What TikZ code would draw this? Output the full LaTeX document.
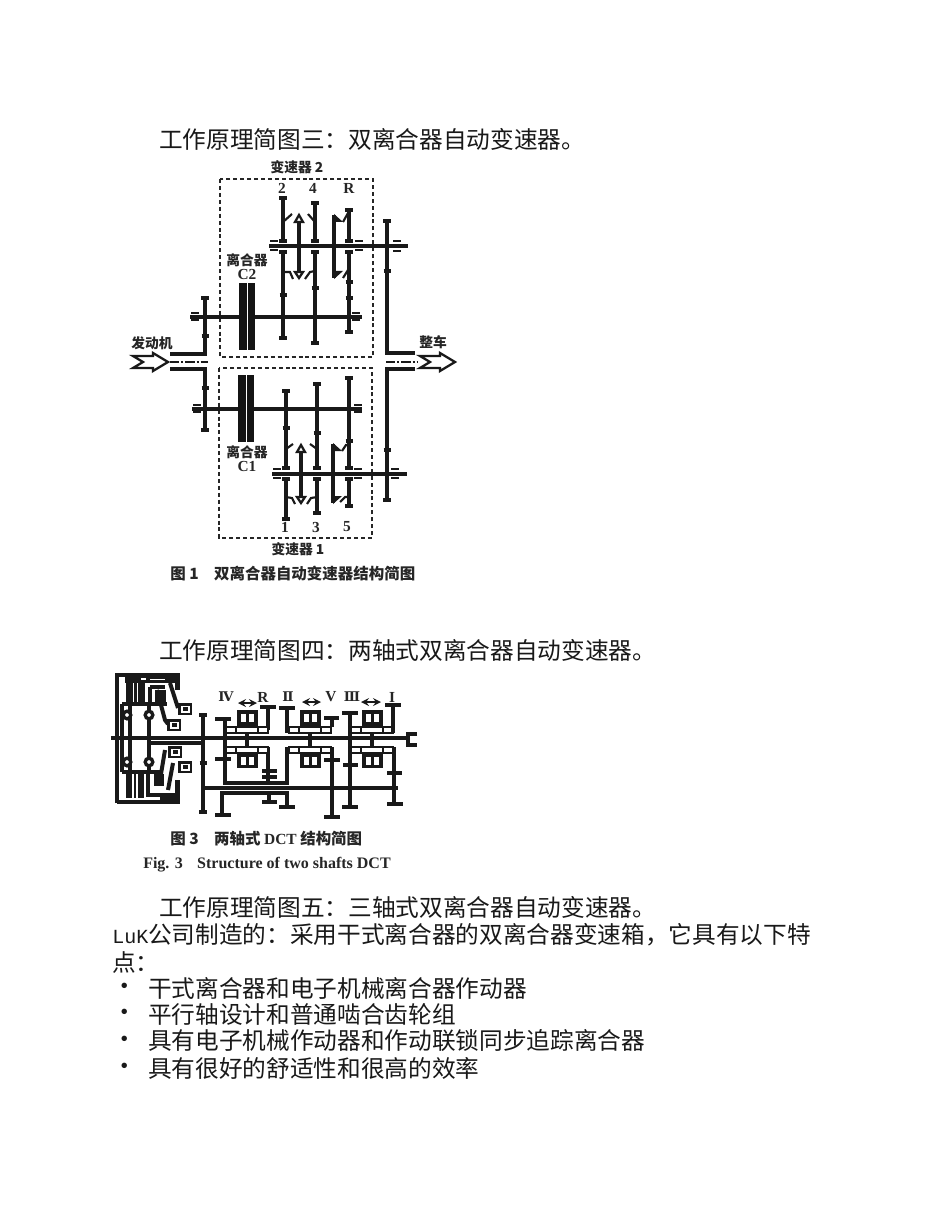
\documentclass[tikz,border=0pt]{standalone}
\usepackage{fontspec}
\setmainfont{Noto Sans CJK SC}
\newfontfamily\lser{Liberation Serif}
\newfontfamily\lmono{Liberation Mono}
\newfontfamily\dvser{DejaVu Serif}
\colorlet{ink}{black!90}
\tikzset{
  ln/.style={line width=2.5pt,draw=ink},
  thn/.style={line width=1.6pt,draw=ink},
  thk/.style={line width=3pt,draw=ink},
  body/.style={anchor=west,inner sep=0pt,font=\fontsize{17.75pt}{18pt}\selectfont,text=black!90},
  lab/.style={inner sep=0pt,font=\fontsize{10.3pt}{10.3pt}\selectfont\bfseries,text=black!85},
  lat/.style={inner sep=0pt,font=\lser\fontsize{11.5pt}{11.5pt}\selectfont\bfseries,text=black!85},
  rom/.style={inner sep=0pt,font=\dvser\fontsize{10pt}{10pt}\selectfont\bfseries,text=black!85},
  capt/.style={anchor=west,inner sep=0pt,font=\fontsize{11.6pt}{12pt}\selectfont\bfseries,text=black!85},
  dbox/.style={line width=1.6pt,dash pattern=on 3pt off 2.2pt,draw=black!85},
  hollow/.style={line width=1.7pt,fill=white,draw=ink},
  box/.style={line width=2pt,draw=ink,fill=white},
}
\newcommand\gv[3]{\draw[ln] (#1,#2) -- (#1,#3) (#1-4,#2) -- (#1+4,#2) (#1-4,#3) -- (#1+4,#3);}
\newcommand\gt[2]{\draw[ln] (#1-3.5,#2) -- (#1+3.5,#2);}
\newcommand\brg[3]{\draw[line width=2pt,draw=ink] (#1-4,#2) -- (#1+4,#2) (#1-4,#3) -- (#1+4,#3);}
\newcommand\unitup[1]{
  \fill[ink] (#1-10.5,710) rectangle (#1+10.5,726);
  \fill[white] (#1-6,714) rectangle (#1-1.5,722);
  \fill[white] (#1+2,714) rectangle (#1+6.5,722);
  \draw[box] (#1-11,727) rectangle (#1+11,733);
  \draw[box] (#1-21,727) rectangle (#1-11,733);
  \draw[box] (#1+11,727) rectangle (#1+21,733);
  \draw[ln] (#1,733) -- (#1,739);
}
\newcommand\unitdn[1]{
  \fill[ink] (#1-10.5,753) rectangle (#1+10.5,768);
  \fill[white] (#1-6,757) rectangle (#1-1.5,765);
  \fill[white] (#1+2,757) rectangle (#1+6.5,765);
  \draw[box] (#1-11,747) rectangle (#1+11,753);
  \draw[box] (#1-21,747) rectangle (#1-11,753);
  \draw[box] (#1+11,747) rectangle (#1+21,753);
  \draw[ln] (#1,739) -- (#1,747);
}
\newcommand\actbox[2]{
  \fill[ink] (#1,#2) rectangle (#1+14,#2+12);
  \fill[white] (#1+2.5,#2+2.5) rectangle (#1+11.5,#2+9.5);
  \fill[ink] (#1+4.5,#2+4) rectangle (#1+9.5,#2+8);
}
\begin{document}
\begin{tikzpicture}[x=0.75pt,y=-0.75pt]
\useasboundingbox (0,0) rectangle (950,1230);
\fill[white] (0,0) rectangle (950,1230);

% ---- body text
\node[body] (t1) at (159,139) {工作原理简图三：双离合器自动变速器。};
\node[body] (t2) at (159,650) {工作原理简图四：两轴式双离合器自动变速器。};
\node[body] (t3) at (159,907) {工作原理简图五：三轴式双离合器自动变速器。};
\node[body] (t4) at (112,935) {{\lmono\fontsize{15pt}{15pt}\selectfont LuK}公司制造的：采用干式离合器的双离合器变速箱，它具有以下特};
\node[body] (t5) at (112,962) {点：};
\node[body] (b1) at (118,988) {{\lmono\fontsize{15pt}{15pt}\selectfont •}};
\node[body] (b2) at (118,1014) {{\lmono\fontsize{15pt}{15pt}\selectfont •}};
\node[body] (b3) at (118,1041) {{\lmono\fontsize{15pt}{15pt}\selectfont •}};
\node[body] (b4) at (118,1068) {{\lmono\fontsize{15pt}{15pt}\selectfont •}};
\node[body] (t6) at (148,988) {干式离合器和电子机械离合器作动器};
\node[body] (t7) at (148,1014) {平行轴设计和普通啮合齿轮组};
\node[body] (t8) at (148,1041) {具有电子机械作动器和作动联锁同步追踪离合器};
\node[body] (t9) at (148,1068) {具有很好的舒适性和很高的效率};

% ---- figure 1: dashed boxes
\draw[dbox] (220,179) rectangle (373,357);
\draw[dbox] (219,368) rectangle (372,538);

% upper half
\draw[ln] (269,246) -- (408,246);
\draw[ln] (190,317) -- (239,317) (255,317) -- (362,317);
\fill[black!92] (239,283) rectangle (247,350);
\fill[black!92] (248,283) rectangle (255,350);
\draw[ln] (283,241) -- (283,198) (279,198) -- (287,198);
\draw[ln] (315,241) -- (315,203) (311,203) -- (319,203);
\draw[ln] (349,241) -- (349,210) (345,210) -- (353,210);
\draw[ln] (279,241) -- (287,241) (311,241) -- (319,241) (345,241) -- (353,241);
\draw[ln] (279,252) -- (287,252) (311,252) -- (319,252) (345,252) -- (353,252);
\draw[ln] (283,252) -- (283,338) (279,338) -- (287,338);
\draw[ln] (315,252) -- (315,343) (311,343) -- (319,343);
\draw[ln] (349,252) -- (349,332) (345,332) -- (353,332);
\gt{283}{295}\gt{315}{288}\gt{349}{282}\gt{349}{298}
\brg{274}{241}{250}\brg{359}{241}{250}\brg{397}{241}{251}
\brg{195}{313}{320}\brg{356}{313}{320}
\draw[ln] (387,221) -- (387,353) -- (415,353) (383,221) -- (391,221);
\gt{387}{271}
\draw[ln] (205,298) -- (205,354) -- (170,354) (201,298) -- (209,298);
\gt{205}{336}
% synchros upper
\draw[ln] (299,222) -- (299,272);
\draw[thn] (283,222) -- (292,214) (315,222) -- (308,214);
\draw[thn] (283,272) -- (290,272) -- (293,279) (315,271) -- (310,272) -- (305,279);
\draw[hollow] (295,222) -- (299,215) -- (303,222) -- cycle;
\draw[hollow] (295,272) -- (299,278) -- (303,272) -- cycle;
\draw[ln] (334,215) -- (334,278);
\fill[ink] (334,214) -- (343,222) -- (334,222) -- cycle;
\fill[ink] (334,279) -- (343,271) -- (334,271) -- cycle;
\draw[thn] (343,222) -- (348,213);
\draw[thn] (343,278) -- (348,270);
% middle centre lines
\draw[thn,dash pattern=on 7pt off 1.5pt on 1.5pt off 1.5pt] (170,362) -- (208,362);
\draw[thn,dash pattern=on 7pt off 1.5pt on 1.5pt off 1.5pt] (386,362) -- (417,362);
% lower half
\draw[ln] (170,369) -- (205,369) -- (205,430) (201,430) -- (209,430);
\gt{205}{388}
\draw[ln] (192,409) -- (238,409) (254,409) -- (362,409);
\fill[black!92] (238,375) rectangle (246,442);
\fill[black!92] (247,375) rectangle (254,442);
\brg{197}{405}{412}\brg{358}{405}{412}
\draw[ln] (286,468) -- (286,391) (282,391) -- (290,391);
\draw[ln] (317,468) -- (317,384) (313,384) -- (321,384);
\draw[ln] (349,468) -- (349,378) (345,378) -- (353,378);
\draw[ln] (282,468) -- (290,468) (313,468) -- (321,468) (345,468) -- (353,468);
\gt{286}{428}\gt{317}{433}\gt{349}{441}
\draw[ln] (272,474) -- (407,474);
\brg{277}{469}{478}\brg{358}{469}{478}\brg{395}{469}{478}
\draw[ln] (286,479) -- (286,519) (282,479) -- (290,479) (282,519) -- (290,519);
\draw[ln] (317,479) -- (317,513) (313,479) -- (321,479) (313,513) -- (321,513);
\draw[ln] (349,479) -- (349,506) (345,479) -- (353,479) (345,506) -- (353,506);
\draw[ln] (415,369) -- (387,369) -- (387,500) (383,500) -- (391,500);
\gt{387}{450}
\draw[ln] (301,452) -- (301,497);
\draw[thn] (286,449) -- (293,444) (317,449) -- (310,444);
\draw[thn] (286,497) -- (292,498) -- (295,504) (317,497) -- (311,498) -- (307,504);
\draw[hollow] (297,452) -- (301,445) -- (305,452) -- cycle;
\draw[hollow] (297,497) -- (301,503) -- (305,497) -- cycle;
\draw[ln] (333,444) -- (333,503);
\fill[ink] (333,443) -- (342,451) -- (333,451) -- cycle;
\fill[ink] (333,504) -- (342,496) -- (333,496) -- cycle;
\draw[thn] (342,451) -- (346,445) -- (349,445);
\draw[thn] (340,502) -- (345,497) -- (349,497);
% arrows
\draw[hollow] (133,356) -- (153,356) -- (153,353) -- (168,362) -- (153,371) -- (153,368) -- (133,368) -- (143,362) -- cycle;
\draw[hollow] (420,356) -- (440,356) -- (440,353) -- (455,362) -- (440,371) -- (440,368) -- (420,368) -- (430,362) -- cycle;
% labels
\node[lab] (l1) at (297,167) {变速器 2};
\node[lat] (n2) at (282,188) {2};
\node[lat] (n4) at (313,188) {4};
\node[lat] (nR) at (349,188) {R};
\node[lab] (l2) at (247,260) {离合器};
\node[lat] (c2) at (247,274) {C2};
\node[lab] (l3) at (152,343) {发动机};
\node[lab] (l4) at (433,342) {整车};
\node[lab] (l5) at (247,452) {离合器};
\node[lat] (c1) at (247,466) {C1};
\node[lat] (n1) at (285,527) {1};
\node[lat] (n3) at (316,527) {3};
\node[lat] (n5) at (347,527) {5};
\node[lab] (l6) at (298,549) {变速器 1};
\node[capt] (cap1) at (170,574) {图 1\hspace{1em}双离合器自动变速器结构简图};

% ---- figure 2: clutch housing
\draw[thk] (117,803) -- (117,675) -- (180,675);
\draw[thk] (117,802) -- (180,802);
% top half
\fill[ink] (125,675) rectangle (180,683);
\fill[white] (141,678) rectangle (146,679.5);
\fill[white] (150,679) rectangle (165,680);
\fill[ink] (175,675) rectangle (180,690);
\fill[ink] (126,683) rectangle (133,703);
\fill[ink] (138,683) rectangle (145,703);
\draw[thn] (135.5,683) -- (135.5,703);
\draw[ln] (150,687) -- (150,703) (150,687) -- (165,687);
\draw[ln] (122,704) -- (167,704);
\fill[ink] (155,690) rectangle (166,703);
\draw[thk] (157,690) -- (165,720) -- (168,724);
\draw[thk] (170,683) -- (178,708);
\actbox{178}{703}
\actbox{167}{719}
% bottom half
\fill[ink] (160,793) rectangle (180,802);
\fill[ink] (175,780) rectangle (180,802);
\fill[ink] (126,773) rectangle (132,798);
\fill[ink] (138,773) rectangle (144,798);
\draw[thn] (135,773) -- (135,798);
\draw[ln] (148,773) -- (148,795) -- (170,795);
\draw[ln] (122,772) -- (162,772);
\fill[ink] (154,774) rectangle (164,786);
\draw[thk] (165,750) -- (160,780);
\draw[thk] (173,763) -- (168,790);
\actbox{168}{746}
\actbox{178}{761}
% common inner parts
\draw[ln] (122,704) -- (122,772) (130,704) -- (130,772);
\draw[ln] (149,704) -- (149,772);
\draw[ln,fill=white] (127,715) circle[radius=3.8];
\draw[ln,fill=white] (149,715) circle[radius=3.8];
\draw[ln,fill=white] (127,762) circle[radius=3.8];
\draw[ln,fill=white] (149,762) circle[radius=3.8];
% shafts
\draw[ln] (111,738) -- (407,738);
\draw[thk] (149,743) -- (205,743);
\draw[ln] (417,734) -- (408,734) -- (408,745) -- (417,745);
% gears
\gv{203}{715}{812}\gt{203}{763}
\draw[ln] (225,719) -- (225,783) -- (287,783) -- (287,747);
\draw[ln] (215,719) -- (231,719) (215,759) -- (231,759);
\draw[ln] (203,788) -- (398,788);
\draw[ln] (222,815) -- (222,793) -- (287,793) -- (287,807);
\draw[ln] (215,815) -- (231,815) (279,807) -- (295,807);
\draw[ln] (269,793) -- (269,802) (262,802) -- (277,802);
\draw[ln] (268,707) -- (268,730) (260,707) -- (276,707);
\draw[ln] (268,747) -- (268,783) (262,771) -- (277,771) (262,777) -- (277,777);
% units
\unitup{247}\unitup{310}\unitup{372}
\unitdn{247}\unitdn{310}\unitdn{372}
% gears meeting the units
\draw[ln] (287,708) -- (287,733) (279,708) -- (295,708);
\draw[ln] (332,718) -- (332,727) (324,718) -- (339,718);
\draw[ln] (332,747) -- (332,817) (324,817) -- (340,817) (324,760) -- (340,760);
\draw[ln] (350,713) -- (350,807) (342,713) -- (358,713) (342,807) -- (358,807) (343,765) -- (358,765);
\draw[ln] (393,705) -- (393,733) (385,705) -- (401,705);
\draw[ln] (394,747) -- (394,804) (387,804) -- (403,804) (387,773) -- (402,773);
% roman labels and arrows
\node[rom] (iv) at (226,697) {Ⅳ};
\node[lat] (r) at (263,697) {R};
\node[rom] (ii) at (288,697) {Ⅱ};
\node[lat] (v) at (331,697) {V};
\node[rom] (iii) at (352,697) {Ⅲ};
\node[lat] (i) at (392,697) {I};
\coordinate (a1) at (238,703); \coordinate (a2) at (257,703);
\coordinate (a3) at (302,702); \coordinate (a4) at (321,702);
\coordinate (a5) at (361,702); \coordinate (a6) at (381,702);
\draw[thn,<->,>=stealth] (a1) -- (a2);
\draw[thn,<->,>=stealth] (a3) -- (a4);
\draw[thn,<->,>=stealth] (a5) -- (a6);
\node[capt] (cap2) at (170,839) {图 3\hspace{1em}两轴式 {\lser DCT} 结构简图};
\node[anchor=west,inner sep=0pt,font=\lser\fontsize{12pt}{12pt}\selectfont\bfseries,text=black!85] (cap3) at (143,865) {Fig. 3\hspace{.9em}Structure of two shafts DCT};
\end{tikzpicture}
\end{document}
